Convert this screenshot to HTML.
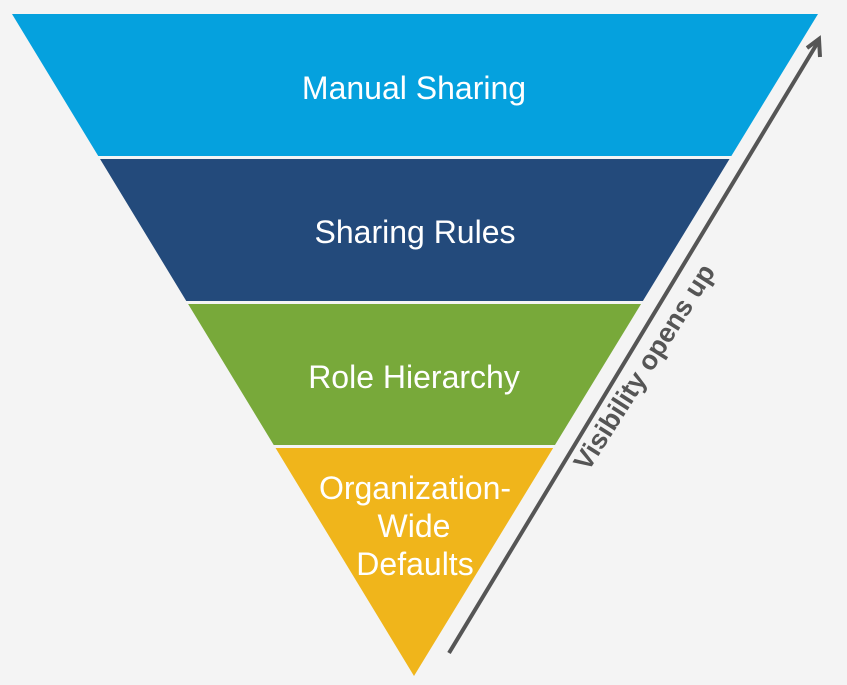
<!DOCTYPE html>
<html><head><style>
body{margin:0;background:#f4f4f4;}
svg{display:block;}
text{font-family:"Liberation Sans",sans-serif;}
</style></head><body>
<svg width="847" height="685" viewBox="0 0 847 685">
<rect width="847" height="685" fill="#f4f4f4"/>
<defs><clipPath id="tri"><polygon points="12,14 818,14 414,676"/></clipPath></defs>
<g clip-path="url(#tri)">
<rect x="0" y="14" width="847" height="142" fill="#05a1de"/>
<rect x="0" y="159" width="847" height="142" fill="#234a7b"/>
<rect x="0" y="304" width="847" height="141" fill="#78a93a"/>
<rect x="0" y="448" width="847" height="240" fill="#f0b51b"/>
</g>
<g fill="#fff" font-size="32" text-anchor="middle">
<text x="414" y="99">Manual Sharing</text>
<text x="415" y="243">Sharing Rules</text>
<text x="414" y="388">Role Hierarchy</text>
<text x="415" y="499">Organization-</text>
<text x="414" y="537">Wide</text>
<text x="415" y="575">Defaults</text>
</g>
<line x1="449" y1="653" x2="818" y2="42" stroke="#555" stroke-width="4"/>
<polyline points="807,48 819,39 820,57" fill="none" stroke="#555" stroke-width="4" stroke-linejoin="miter"/>
<text x="0" y="0" font-size="27" font-weight="bold" fill="#555" text-anchor="middle" transform="translate(652,372) rotate(-57.5)">Visibility opens up</text>
</svg>
</body></html>
